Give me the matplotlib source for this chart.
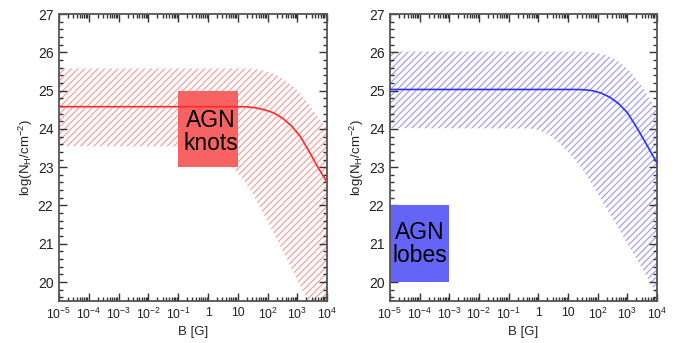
import numpy as np
import matplotlib
matplotlib.use('Agg')
import matplotlib.pyplot as plt
from matplotlib.ticker import FixedLocator, LogLocator, NullFormatter, MultipleLocator

plt.rcParams['font.family'] = ['Liberation Sans', 'DejaVu Sans']
plt.rcParams['mathtext.fontset'] = 'custom'
plt.rcParams['mathtext.rm'] = 'Liberation Sans'
plt.rcParams['hatch.linewidth'] = 0.9

# log10(B) sample points
knots_logb = [-5, 1.0, 1.3, 1.6, 1.9, 2.2, 2.5, 2.8, 3.1, 3.4, 3.7, 4.0]
knots_curve = [24.58, 24.58, 24.575, 24.55, 24.5, 24.42, 24.28, 24.08, 23.8, 23.4, 22.98, 22.6]
knots_band_logb = [-5, 1.3, 1.6, 1.9, 2.2, 2.5, 2.8, 3.1, 3.4, 3.7, 4.0]
knots_upper = [25.58, 25.58, 25.56, 25.52, 25.44, 25.32, 25.15, 24.92, 24.63, 24.3, 24.0]
knots_low_logb = [-5, -0.6, -0.3, 0.0, 0.3, 0.6, 0.9, 1.2, 1.5, 2.0, 2.5, 3.0, 3.4]
knots_lower = [23.55, 23.54, 23.52, 23.45, 23.33, 23.15, 22.93, 22.66, 22.3, 21.58, 20.82, 20.04, 19.42]

lobes_logb = [-5, 1.2, 1.5, 1.8, 2.1, 2.4, 2.7, 3.0, 3.3, 3.6, 4.0]
lobes_curve = [25.03, 25.03, 25.025, 25.0, 24.94, 24.83, 24.66, 24.42, 24.05, 23.65, 23.1]
lobes_band_logb = [-5, 1.4, 1.7, 2.0, 2.3, 2.6, 2.9, 3.2, 3.5, 3.8, 4.0]
lobes_upper = [26.02, 26.02, 26.01, 25.98, 25.92, 25.81, 25.64, 25.4, 25.1, 24.72, 24.42]
lobes_low_logb = [-5, -0.3, 0.0, 0.3, 0.6, 0.9, 1.2, 1.5, 2.0, 2.5, 3.0, 3.5, 4.0]
lobes_lower = [24.02, 24.01, 23.97, 23.87, 23.7, 23.48, 23.22, 22.93, 22.3, 21.65, 21.0, 20.35, 19.65]

# source boxes: (B range, logN range)
knots_box_b = [1e-1, 1e1]
knots_box_n = [23, 25]
lobes_box_b = [1e-5, 1e-3]
lobes_box_n = [20, 22]

xtick_vals = [1e-5, 1e-4, 1e-3, 1e-2, 1e-1, 1, 10, 1e2, 1e3, 1e4]
xtick_labels = ['$10^{-5}$', '$10^{-4}$', '$10^{-3}$', '$10^{-2}$', '$10^{-1}$',
                '1', '10', '$10^{2}$', '$10^{3}$', '$10^{4}$']


def band(ax, logb_up, upper, logb_low, lower, color):
    grid = np.union1d(logb_up, logb_low)
    up = np.interp(grid, logb_up, upper)
    lo = np.interp(grid, logb_low, lower, right=19.0)
    ax.fill_between(10 ** grid, lo, up, facecolor='none', edgecolor=color,
                    hatch='/////', linewidth=0)


def panel(ax, logb, curve, band_logb, upper, low_logb, lower, box_b, box_n,
          hatch_color, line_color, box_color, label, text_xy):
    band(ax, band_logb, upper, low_logb, lower, hatch_color)
    ax.fill_between(box_b, box_n[0], box_n[1], color=box_color, linewidth=0, zorder=2)
    ax.plot(10 ** np.array(logb), curve, color=line_color, lw=1.2, zorder=3)
    ax.text(text_xy[0], text_xy[1], label, fontsize=16.5, ha='center', va='center',
            linespacing=1.0, zorder=4)
    ax.set_xscale('log')
    ax.set_xlim(1e-5, 1e4)
    ax.set_ylim(19.5, 27)
    ax.xaxis.set_major_locator(FixedLocator(xtick_vals))
    ax.set_xticklabels(xtick_labels)
    ax.xaxis.set_minor_locator(LogLocator(base=10, subs=np.arange(2, 10), numticks=20))
    ax.xaxis.set_minor_formatter(NullFormatter())
    ax.yaxis.set_major_locator(MultipleLocator(1))
    ax.yaxis.set_minor_locator(MultipleLocator(0.2))
    ax.tick_params(which='both', direction='in', top=True, right=True,
                   color='#333333', labelcolor='#222222', width=1.0)
    ax.tick_params(axis='y', labelsize=10)
    ax.tick_params(axis='x', labelsize=8.8)
    ax.tick_params(which='major', length=6, pad=4)
    ax.tick_params(which='minor', length=3)
    for s in ax.spines.values():
        s.set_color('#555555')
        s.set_linewidth(1.3)
    ax.set_xlabel('B [G]', fontsize=9.5, color='#222222', labelpad=3)
    ax.set_ylabel(r'log(N$_\mathrm{H}$/cm$^{-2}$)', fontsize=9.5, color='#222222',
                  labelpad=2)


fig = plt.figure(figsize=(6.86, 3.43), dpi=100)
ax1 = fig.add_axes([0.086, 0.122, 0.391, 0.837])
ax2 = fig.add_axes([0.5685, 0.122, 0.3895, 0.837])

panel(ax1, knots_logb, knots_curve, knots_band_logb, knots_upper, knots_low_logb,
      knots_lower, knots_box_b, knots_box_n, '#f5a3a3', '#ff2a2a', '#f76262',
      'AGN\nknots', (1.26, 23.93))
panel(ax2, lobes_logb, lobes_curve, lobes_band_logb, lobes_upper, lobes_low_logb,
      lobes_lower, lobes_box_b, lobes_box_n, '#a3a3f2', '#3030ff', '#6464f6',
      'AGN\nlobes', (1.0e-4, 21.0))

fig.savefig('out.png', dpi=100)
